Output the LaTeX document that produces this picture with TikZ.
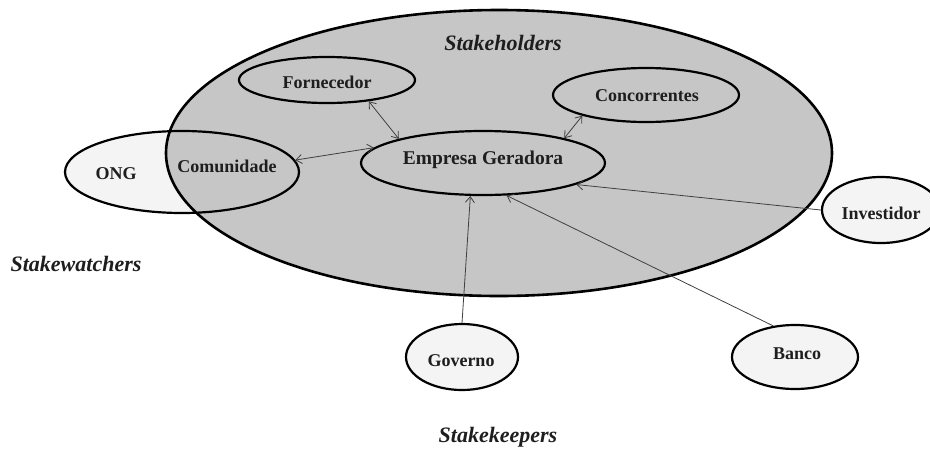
\documentclass[tikz,border=0pt]{standalone}
\usepackage{fontspec}
\setmainfont{Liberation Serif}
\usetikzlibrary{shapes.geometric,arrows.meta}
\definecolor{biggray}{HTML}{C6C6C6}
\definecolor{lightfill}{HTML}{F4F4F4}
\definecolor{txt}{HTML}{1E1E1E}
\definecolor{arr}{HTML}{404040}
\begin{document}
\begin{tikzpicture}[x=1pt,y=-1pt,
  ell/.style={ellipse,inner sep=0pt,line width=2.2pt,draw=black},
  lbl/.style={font=\fontsize{18}{20}\selectfont\bfseries,text=txt},
  hdr/.style={font=\fontsize{22}{24}\selectfont\bfseries\itshape,text=txt},
  conn/.style={draw=arr,line width=0.8pt,-{Straight Barb[length=6pt,width=9pt]}},
  bconn/.style={draw=arr,line width=0.8pt,{Straight Barb[length=6pt,width=9pt]}-{Straight Barb[length=6pt,width=9pt]}}]
\useasboundingbox[fill=white] (0,0) rectangle (930,448);
% fills
\node[ellipse,inner sep=0pt,fill=lightfill,minimum width=234pt,minimum height=82pt] (ongf) at (182,172) {};
\node[ellipse,inner sep=0pt,fill=biggray,minimum width=666pt,minimum height=286pt] (bigf) at (499,153) {};
% outlines
\node[ell,line width=2.6pt,minimum width=666pt,minimum height=286pt] (big) at (499,153) {};
\node[ell,minimum width=234pt,minimum height=82pt] (ong) at (182,172) {};
\node[ell,minimum width=176pt,minimum height=46pt] (forn) at (327,80) {};
\node[ell,minimum width=186pt,minimum height=54pt] (conc) at (646,95) {};
\node[ell,minimum width=244pt,minimum height=64pt] (emp) at (483,163) {};
\node[ell,fill=lightfill,minimum width=118pt,minimum height=66pt] (inv) at (881,210) {};
\node[ell,fill=lightfill,minimum width=112pt,minimum height=66pt] (gov) at (462,357) {};
\node[ell,fill=lightfill,minimum width=126pt,minimum height=64pt] (banco) at (795,357) {};
% labels
\node[lbl] (tong) at (116,174) {ONG};
\node[lbl] (tcom) at (227,166) {Comunidade};
\node[lbl] (tforn) at (327,82) {Fornecedor};
\node[lbl] (tconc) at (647,96) {Concorrentes};
\node[lbl,font=\fontsize{19.5}{21}\selectfont\bfseries] (temp) at (483,160) {Empresa Geradora};
\node[lbl] (tinv) at (881,213) {Investidor};
\node[lbl] (tgov) at (461,361) {Governo};
\node[lbl] (tbanco) at (797,354) {Banco};
\node[hdr] (hold) at (503,43) {Stakeholders};
\node[hdr] (watch) at (76,264) {Stakewatchers};
\node[hdr] (keep) at (498,437) {Stakekeepers};
% connectors
\draw[bconn] (ong.6) -- (emp.172);
\draw[bconn] (forn.-27) -- (emp.164);
\draw[bconn] (conc.198) -- (emp.17);
\draw[conn] (inv.west) -- (emp.-13);
\draw[conn] (gov.north) -- (emp.249);
\draw[conn] (banco.125) -- (emp.-54);
\end{tikzpicture}
\end{document}
